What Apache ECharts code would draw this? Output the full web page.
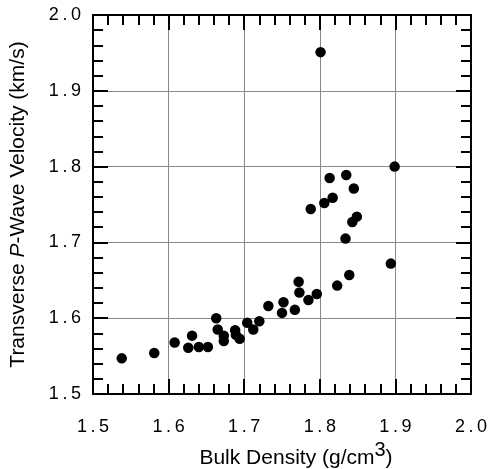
<!DOCTYPE html>
<html>
<head>
<meta charset="utf-8">
<script src="https://cdn.jsdelivr.net/npm/echarts@6/dist/echarts.min.js"></script>
<style>
html,body{margin:0;padding:0;background:#fff;}
#chart{width:491px;height:469px;}
</style>
</head>
<body>
<div id="chart"></div>
<script>
// Bulk density (g/cm3)
const density = [1.538, 1.581, 1.608, 1.626, 1.631, 1.640, 1.652, 1.663, 1.665, 1.673,
  1.673, 1.688, 1.689, 1.694, 1.704, 1.712, 1.720, 1.732, 1.750, 1.752,
  1.767, 1.772, 1.773, 1.785, 1.796, 1.823, 1.839, 1.894,
  1.788, 1.806, 1.817, 1.813, 1.835, 1.845, 1.849, 1.843, 1.834, 1.899, 1.801];
// Transverse P-wave velocity (km/s)
const velocity = [1.547, 1.554, 1.568, 1.561, 1.577, 1.562, 1.562, 1.600, 1.585, 1.577,
  1.570, 1.584, 1.578, 1.573, 1.594, 1.585, 1.596, 1.616, 1.607, 1.621,
  1.611, 1.648, 1.634, 1.624, 1.632, 1.643, 1.657, 1.672,
  1.744, 1.752, 1.759, 1.785, 1.789, 1.771, 1.734, 1.727, 1.705, 1.800, 1.951];
const xTicks = [1.5, 1.6, 1.7, 1.8, 1.9, 2.0];
const yTicks = [1.5, 1.6, 1.7, 1.8, 1.9, 2.0];

const FONT = 'Liberation Sans';
const spaced = v => v.toFixed(1).split('').join('\u2009');

const points = density.map((d, i) => [d, velocity[i]]);

const baseAxis = {
  min: xTicks[0], max: xTicks[xTicks.length - 1], interval: 0.1,
  axisLine: {show: true, onZero: false, lineStyle: {color: '#000', width: 2}},
  axisTick: {show: true, inside: true, length: 15, lineStyle: {color: '#000', width: 2}},
  minorTick: {show: true, splitNumber: 5, length: 10, lineStyle: {color: '#000', width: 2}},
  splitLine: {show: false},
  minorSplitLine: {show: false}
};

const chart = echarts.init(document.getElementById('chart'), null, {renderer: 'canvas'});
chart.setOption({
  animation: false,
  backgroundColor: '#fff',
  grid: {left: 93, right: 20, top: 15, bottom: 75, containLabel: false, outerBoundsMode: 'none'},
  xAxis: [
    Object.assign({}, baseAxis, {
      type: 'value', position: 'bottom',
      axisLabel: {show: true, color: '#000', fontFamily: FONT, fontSize: 18, margin: 24, formatter: spaced},
      splitLine: {show: true, lineStyle: {color: '#888', width: 1}},
      name: '{n|Bulk Density (g/cm}{sup|3}{n|)}',
      nameLocation: 'middle', nameGap: 42,
      nameTextStyle: {color: '#000', fontFamily: FONT, fontSize: 21, padding: [0, 0, 0, 28],
        rich: {
          n: {fontFamily: FONT, fontSize: 21, color: '#000', verticalAlign: 'bottom'},
          sup: {fontFamily: FONT, fontSize: 20, color: '#000', verticalAlign: 'bottom', padding: [0, 0, 8, 0]}
        }}
    }),
    Object.assign({}, baseAxis, {
      type: 'value', position: 'top',
      axisLabel: {show: false}
    })
  ],
  yAxis: [
    Object.assign({}, baseAxis, {
      type: 'value', position: 'left',
      min: yTicks[0], max: yTicks[yTicks.length - 1],
      axisLabel: {show: true, color: '#000', fontFamily: FONT, fontSize: 18, margin: 12, formatter: spaced},
      splitLine: {show: true, lineStyle: {color: '#888', width: 1}},
      name: 'Transverse {i|P}-Wave Velocity (km/s)',
      nameLocation: 'middle', nameGap: 64,
      nameTextStyle: {color: '#000', fontFamily: FONT, fontSize: 21,
        rich: {i: {fontFamily: FONT, fontSize: 21, fontStyle: 'italic', color: '#000'}}}
    }),
    Object.assign({}, baseAxis, {
      type: 'value', position: 'right',
      min: yTicks[0], max: yTicks[yTicks.length - 1],
      axisLabel: {show: false}
    })
  ],
  series: [{
    type: 'scatter',
    xAxisIndex: 0, yAxisIndex: 0,
    data: points,
    symbol: 'circle',
    symbolSize: 10.5,
    itemStyle: {color: '#000', opacity: 1},
    z: 5
  }]
});
</script>
</body>
</html>
